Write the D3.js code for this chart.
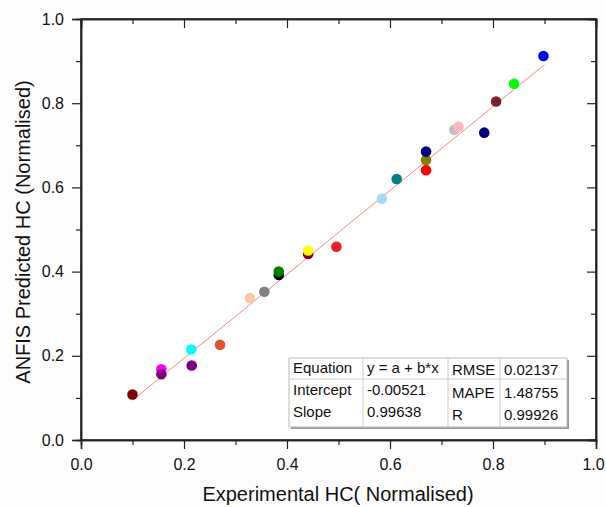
<!DOCTYPE html>
<html>
<head>
<meta charset="utf-8">
<script src="https://cdn.jsdelivr.net/npm/d3@7"></script>
<style>
  body { margin: 0; background: #fdfdfd; }
  text { font-family: "Liberation Sans", Arial, sans-serif; fill: #111; }
</style>
</head>
<body>
<script>
// experimental vs predicted values, one colour per sample
const experimental = [0.100, 0.156, 0.156, 0.214, 0.215, 0.270, 0.328, 0.356, 0.384, 0.384,
                      0.441, 0.441, 0.496, 0.584, 0.613, 0.670, 0.670, 0.670, 0.725, 0.733,
                      0.783, 0.806, 0.841, 0.898];
const predicted    = [0.108, 0.168, 0.156, 0.215, 0.177, 0.226, 0.337, 0.352, 0.392, 0.400,
                      0.442, 0.450, 0.459, 0.573, 0.620, 0.641, 0.665, 0.685, 0.737, 0.744,
                      0.730, 0.804, 0.846, 0.912];
const pointColors  = ["#800000", "#ff00ff", "#800080", "#00ffff", "#800080", "#e0532f", "#f8c8a4", "#808080", "#000000", "#008000",
                      "#800020", "#ffff00", "#ee1c25", "#a8d8f0", "#008080", "#ff0000", "#808000", "#000080", "#c0c0c0", "#ffb6c1",
                      "#000080", "#80202f", "#00ff00", "#0000ff"];

const fitIntercept = -0.00521;
const fitSlope = 0.99638;
const fitRange = [0.1, 0.9];

const axisTicks = [0, 0.2, 0.4, 0.6, 0.8, 1.0];
const minorTicks = [0.1, 0.3, 0.5, 0.7, 0.9];

const tableRows = [
  ["Equation", "y = a + b*x", "RMSE", "0.02137"],
  ["Intercept", "-0.00521", "MAPE", "1.48755"],
  ["Slope", "0.99638", "R", "0.99926"]
];

const w = 606, h = 507;
const pLeft = 81, pRight = 596, pTop = 19, pBottom = 440;

const svg = d3.select("body").append("svg").attr("width", w).attr("height", h);

const x = d3.scaleLinear().domain([0, 1]).range([pLeft, pRight]);
const y = d3.scaleLinear().domain([0, 1]).range([pBottom, pTop]);

svg.append("rect")
  .attr("x", pLeft).attr("y", pTop)
  .attr("width", pRight - pLeft).attr("height", pBottom - pTop)
  .attr("fill", "#fff");

// axes: bottom/left outward, top/right mirrored inward
const fmt = d3.format(".1f");
const xAxisG = svg.append("g").attr("transform", "translate(0," + pBottom + ")")
  .call(d3.axisBottom(x).tickValues(axisTicks).tickFormat(fmt).tickSize(9).tickPadding(10));
svg.append("g").attr("transform", "translate(0," + pBottom + ")")
  .call(d3.axisBottom(x).tickValues(minorTicks).tickFormat("").tickSize(5));
svg.append("g").attr("transform", "translate(" + pLeft + ",0)")
  .call(d3.axisLeft(y).tickValues(axisTicks).tickFormat(fmt).tickSize(9).tickPadding(8));
svg.append("g").attr("transform", "translate(" + pLeft + ",0)")
  .call(d3.axisLeft(y).tickValues(minorTicks).tickFormat("").tickSize(5));

svg.append("g").attr("transform", "translate(0," + pTop + ")")
  .call(d3.axisBottom(x).tickValues(axisTicks).tickFormat("").tickSize(9));
svg.append("g").attr("transform", "translate(0," + pTop + ")")
  .call(d3.axisBottom(x).tickValues(minorTicks).tickFormat("").tickSize(5));
svg.append("g").attr("transform", "translate(" + pRight + ",0)")
  .call(d3.axisLeft(y).tickValues(axisTicks).tickFormat("").tickSize(9));
svg.append("g").attr("transform", "translate(" + pRight + ",0)")
  .call(d3.axisLeft(y).tickValues(minorTicks).tickFormat("").tickSize(5));

svg.selectAll(".domain").attr("stroke", "#222").attr("stroke-width", 1.5);
svg.selectAll(".tick line").attr("stroke", "#222").attr("stroke-width", 1.2);
svg.selectAll(".tick text").style("font-size", "16px").attr("fill", "#222");
// last x label sits at the page edge, pull it in a touch
xAxisG.selectAll(".tick text").filter((d) => d === 1).attr("dx", -3);

// close the frame
svg.append("rect")
  .attr("x", pLeft).attr("y", pTop)
  .attr("width", pRight - pLeft).attr("height", pBottom - pTop)
  .attr("fill", "none").attr("stroke", "#222").attr("stroke-width", 1.5);

// fitted line
svg.append("line")
  .attr("x1", x(fitRange[0])).attr("y1", y(fitIntercept + fitSlope * fitRange[0]))
  .attr("x2", x(fitRange[1])).attr("y2", y(fitIntercept + fitSlope * fitRange[1]))
  .attr("stroke", "#f04040").attr("stroke-opacity", 0.7).attr("stroke-width", 0.9);

svg.selectAll("circle.pt")
  .data(experimental)
  .enter()
  .append("circle")
  .attr("class", "pt")
  .attr("cx", (d) => x(d))
  .attr("cy", (d, i) => y(predicted[i]))
  .attr("r", 5.3)
  .attr("fill", (d, i) => pointColors[i]);

// stats table
const tx = 289, ty = 358, tw = 278, th = 69;
const colX = [289, 363, 448, 500, 567];
const rowY = [358, 379, 427];
svg.append("rect").attr("x", tx + 2).attr("y", ty + 2).attr("width", tw).attr("height", th).attr("fill", "#999");
svg.append("rect").attr("x", tx).attr("y", ty).attr("width", tw).attr("height", th)
  .attr("fill", "#fff").attr("stroke", "#bbb").attr("stroke-width", 1);
colX.slice(1, 4).forEach(function (cx) {
  svg.append("line").attr("x1", cx).attr("x2", cx).attr("y1", ty).attr("y2", ty + th)
    .attr("stroke", "#ccc");
});
svg.append("line").attr("x1", tx).attr("x2", tx + tw).attr("y1", rowY[1]).attr("y2", rowY[1]).attr("stroke", "#ccc");

const baseLeft = [373, 395, 417];
const baseRight = [375, 398, 420];
tableRows.forEach(function (row, r) {
  row.forEach(function (cell, c) {
    svg.append("text")
      .attr("x", colX[c] + 4)
      .attr("y", c < 2 ? baseLeft[r] : baseRight[r])
      .style("font-size", "15px")
      .text(cell);
  });
});

svg.append("text")
  .attr("x", 338)
  .attr("y", 501)
  .attr("text-anchor", "middle")
  .style("font-size", "20px")
  .text("Experimental HC( Normalised)");

svg.append("text")
  .attr("transform", "translate(30,232) rotate(-90)")
  .attr("text-anchor", "middle")
  .style("font-size", "20px")
  .text("ANFIS Predicted HC (Normalised)");
</script>
</body>
</html>
